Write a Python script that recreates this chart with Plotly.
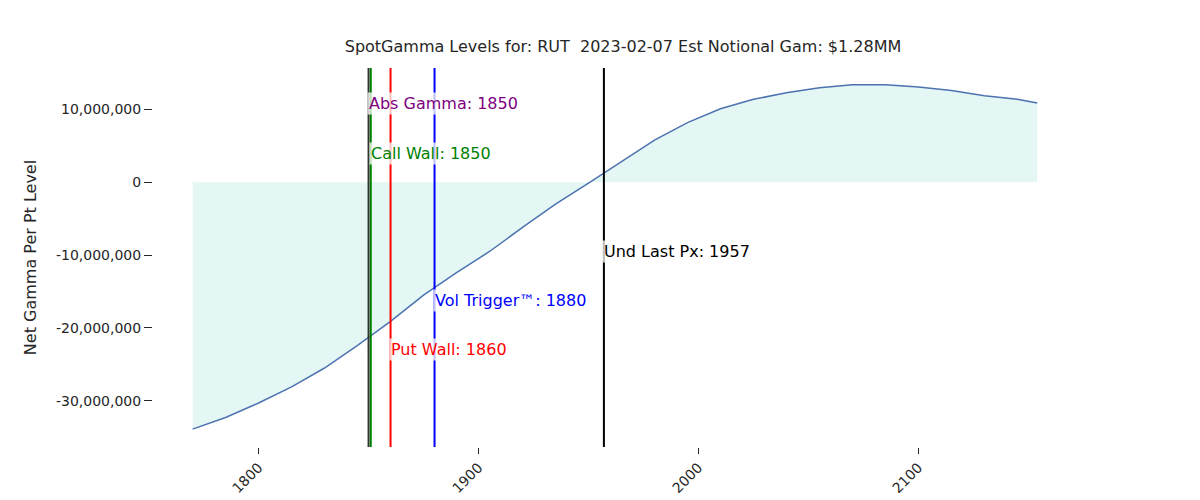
import plotly.graph_objects as go

strikes = [1770,1785,1800,1815,1830,1845,1860,1875,1890,1905,1920,1935,1950,1965,1980,1995,
           2010,2025,2040,2055,2070,2085,2100,2115,2130,2145,2154]
gamma_m = [-33.9,-32.3,-30.3,-28.1,-25.5,-22.4,-19.1,-15.5,-12.4,-9.5,-6.2,-3.0,-0.1,2.8,5.8,8.2,
           10.1,11.4,12.3,13.0,13.4,13.4,13.1,12.6,11.9,11.4,10.9]
gamma = [v*1e6 for v in gamma_m]

levels = [("Abs Gamma: 1850", 1850, "#333333", "purple", 10.8e6),
          ("Call Wall: 1850", 1851, "green", "green", 4.0e6),
          ("Put Wall: 1860", 1860, "red", "red", -23.0e6),
          ("Vol Trigger™: 1880", 1880, "blue", "blue", -16.2e6),
          ("Und Last Px: 1957", 1957, "black", "black", -9.5e6)]

fig = go.Figure()
fig.add_trace(go.Scatter(x=strikes, y=gamma, mode="lines", line=dict(color="#4c72b0", width=1.5),
                         fill="tozeroy", fillcolor="rgba(190,235,228,0.4)", showlegend=False))
for txt, x, lc, tc, y in levels:
    fig.add_vline(x=x, line=dict(color=lc, width=2))
for txt, x, lc, tc, y in levels:
    fig.add_annotation(x=x, y=y, text=txt, showarrow=False, xanchor="left", yanchor="middle",
                       xshift=-2, font=dict(color=tc, size=16, family="DejaVu Sans"),
                       bgcolor="rgba(255,255,255,0.75)")
fig.update_layout(
    width=1200, height=500, plot_bgcolor="white", paper_bgcolor="white",
    margin=dict(l=145, r=107, t=60, b=55),
    title=dict(text="SpotGamma Levels for: RUT  2023-02-07 Est Notional Gam: $1.28MM",
               x=0.5125, xanchor="center", y=0.935, font=dict(size=16, color="#262626", family="DejaVu Sans")),
    font=dict(family="DejaVu Sans", color="#262626", size=14),
    xaxis=dict(range=[1752, 2183], tickvals=[1800,1900,2000,2100], tickangle=-45, showgrid=False,
               zeroline=False, showline=False, ticks="outside", ticklen=6, tickcolor="#262626"),
    yaxis=dict(range=[-36.35e6, 15.7e6], tickvals=[-30e6,-20e6,-10e6,0,10e6],
               ticktext=["-30,000,000","-20,000,000","-10,000,000","0","10,000,000"],
               showgrid=False, zeroline=False, showline=False, ticks="outside", ticklen=8,
               tickcolor="#262626", title=dict(text="Net Gamma Per Pt Level", font=dict(size=16))),
)
fig.write_html("out.html")
